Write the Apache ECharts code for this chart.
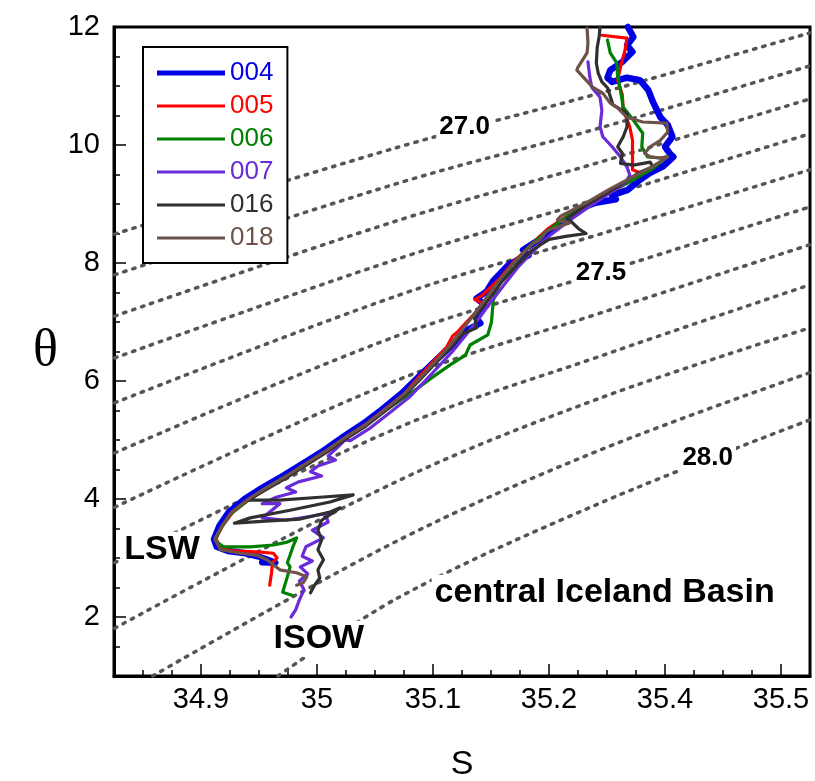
<!DOCTYPE html>
<html>
<head>
<meta charset="UTF-8">
<script src="https://cdn.jsdelivr.net/npm/echarts@6/dist/echarts.min.js"></script>
<style>
  html, body { margin: 0; padding: 0; background: #fff; }
  #chart { width: 815px; height: 781px; }
</style>
</head>
<body>
<div id="chart"></div>
<script>
// axis ticks
const sTicks = [34.875, 35.0, 35.125, 35.25, 35.375, 35.5];
const sTickLabels = ['34.9', '35', '35.1', '35.2', '35.4', '35.5'];
const thetaTicks = [2, 4, 6, 8, 10, 12];

// stations: [S, theta]
const stationNames = ['004', '005', '006', '007', '016', '018'];

const st004 = [[35.335,12.00],[35.341,11.83],[35.334,11.69],[35.340,11.58],[35.329,11.41],[35.316,11.27],[35.313,11.14],[35.318,11.07],[35.334,11.14],[35.348,11.10],[35.357,10.93],[35.362,10.73],[35.370,10.47],[35.378,10.34],[35.383,10.14],[35.375,9.97],[35.380,9.86],[35.384,9.80],[35.373,9.64],[35.359,9.53],[35.348,9.41],[35.335,9.24],[35.318,9.15],[35.322,9.08],[35.300,9.02],[35.285,8.93],[35.268,8.74],[35.250,8.55],[35.238,8.38],[35.222,8.22],[35.228,8.13],[35.207,7.98],[35.190,7.70],[35.183,7.52],[35.172,7.40],[35.180,7.30],[35.170,7.10],[35.176,6.98],[35.160,6.85],[35.145,6.60],[35.128,6.35],[35.110,6.08],[35.092,5.80],[35.071,5.53],[35.050,5.28],[35.028,5.05],[35.007,4.82],[34.985,4.60],[34.963,4.39],[34.941,4.19],[34.922,4.00],[34.905,3.78],[34.895,3.55],[34.889,3.32],[34.892,3.19],[34.904,3.12],[34.923,3.08],[34.936,3.03],[34.947,2.97],[34.955,2.92],[34.941,2.93]];

const st005 = [[35.307,11.86],[35.334,11.81],[35.332,11.61],[35.327,11.32],[35.324,11.10],[35.329,10.85],[35.330,10.59],[35.337,10.31],[35.340,10.08],[35.340,9.80],[35.340,9.58],[35.348,9.53],[35.357,9.58],[35.345,9.45],[35.322,9.25],[35.295,9.02],[35.270,8.80],[35.248,8.57],[35.230,8.30],[35.212,8.02],[35.196,7.72],[35.178,7.45],[35.170,7.38],[35.181,7.30],[35.166,7.08],[35.152,6.84],[35.146,6.76],[35.140,6.58],[35.126,6.34],[35.110,6.07],[35.094,5.78],[35.074,5.53],[35.053,5.27],[35.031,5.04],[35.010,4.81],[34.988,4.59],[34.967,4.38],[34.945,4.18],[34.927,3.99],[34.909,3.77],[34.898,3.54],[34.891,3.33],[34.896,3.17],[34.909,3.12],[34.939,3.10],[34.953,3.08],[34.957,3.00],[34.952,2.92],[34.951,2.75],[34.949,2.54]];

const st006 = [[35.313,11.78],[35.316,11.56],[35.323,11.39],[35.324,11.15],[35.327,10.93],[35.330,10.64],[35.341,10.42],[35.351,10.20],[35.350,9.97],[35.356,9.80],[35.370,9.78],[35.377,9.80],[35.362,9.60],[35.342,9.42],[35.318,9.22],[35.293,9.00],[35.269,8.78],[35.248,8.54],[35.228,8.27],[35.212,7.99],[35.197,7.68],[35.190,7.37],[35.188,7.00],[35.184,6.78],[35.165,6.61],[35.160,6.44],[35.143,6.27],[35.125,6.07],[35.106,5.85],[35.090,5.68],[35.072,5.48],[35.051,5.23],[35.029,5.01],[35.008,4.79],[34.986,4.57],[34.965,4.36],[34.943,4.16],[34.925,3.97],[34.907,3.75],[34.897,3.52],[34.890,3.30],[34.899,3.19],[34.928,3.19],[34.953,3.22],[34.968,3.27],[34.978,3.34],[34.974,3.19],[34.971,3.05],[34.968,2.92],[34.971,2.85],[34.968,2.68],[34.963,2.42],[34.973,2.37]];

const st007 = [[35.292,11.41],[35.294,11.15],[35.296,10.98],[35.305,10.81],[35.307,10.59],[35.305,10.31],[35.308,10.14],[35.318,9.97],[35.327,9.80],[35.334,9.63],[35.337,9.49],[35.333,9.37],[35.315,9.18],[35.293,8.95],[35.272,8.72],[35.252,8.48],[35.233,8.20],[35.216,7.92],[35.201,7.62],[35.187,7.33],[35.173,7.03],[35.160,6.77],[35.147,6.52],[35.133,6.28],[35.117,6.01],[35.099,5.72],[35.079,5.47],[35.058,5.21],[35.036,4.99],[35.030,5.00],[35.019,4.83],[35.012,4.73],[35.020,4.66],[35.001,4.56],[34.993,4.46],[35.005,4.39],[34.980,4.29],[34.967,4.19],[34.977,4.12],[34.956,4.03],[34.941,3.92],[34.960,3.92],[34.949,3.78],[34.941,3.68],[34.966,3.64],[34.987,3.69],[35.009,3.75],[35.012,3.61],[34.995,3.47],[35.007,3.34],[34.988,3.19],[34.984,3.03],[34.995,2.95],[34.982,2.85],[34.990,2.73],[34.981,2.61],[34.986,2.46],[34.981,2.29],[34.977,2.12],[34.972,2.00]];

const st016 = [[35.305,12.00],[35.304,11.83],[35.302,11.66],[35.301,11.39],[35.303,11.22],[35.307,11.07],[35.313,10.97],[35.319,10.68],[35.334,10.54],[35.334,10.31],[35.330,10.14],[35.324,9.97],[35.329,9.86],[35.327,9.69],[35.341,9.66],[35.359,9.71],[35.362,9.63],[35.348,9.54],[35.335,9.41],[35.316,9.22],[35.292,9.00],[35.270,8.76],[35.282,8.58],[35.290,8.50],[35.268,8.45],[35.250,8.40],[35.232,8.22],[35.215,7.96],[35.198,7.66],[35.185,7.38],[35.170,7.08],[35.172,6.90],[35.157,6.80],[35.143,6.55],[35.128,6.31],[35.112,6.04],[35.094,5.75],[35.074,5.50],[35.053,5.24],[35.031,5.02],[35.010,4.79],[34.988,4.57],[34.967,4.36],[34.945,4.16],[34.926,3.98],[34.960,3.98],[35.003,4.03],[35.039,4.07],[35.014,3.95],[34.971,3.81],[34.928,3.68],[34.911,3.59],[34.949,3.63],[34.982,3.66],[35.014,3.78],[35.025,3.85],[35.005,3.64],[35.001,3.47],[35.005,3.31],[35.001,3.14],[35.007,2.97],[35.001,2.80],[35.003,2.66],[34.997,2.53],[34.993,2.41]];

const st018 = [[35.291,11.98],[35.292,11.73],[35.291,11.56],[35.281,11.31],[35.280,11.27],[35.287,11.15],[35.297,10.98],[35.308,10.88],[35.316,10.71],[35.324,10.63],[35.334,10.47],[35.351,10.39],[35.377,10.37],[35.378,10.22],[35.370,10.08],[35.359,9.97],[35.353,9.86],[35.359,9.80],[35.370,9.78],[35.378,9.80],[35.360,9.62],[35.338,9.44],[35.314,9.24],[35.290,9.02],[35.263,8.80],[35.259,8.73],[35.272,8.68],[35.248,8.55],[35.240,8.39],[35.232,8.32],[35.212,8.00],[35.196,7.70],[35.182,7.40],[35.168,7.10],[35.155,6.84],[35.142,6.58],[35.128,6.34],[35.112,6.07],[35.094,5.78],[35.074,5.53],[35.053,5.27],[35.031,5.05],[35.010,4.82],[34.988,4.60],[34.967,4.39],[34.945,4.19],[34.926,4.00],[34.908,3.78],[34.898,3.55],[34.890,3.33],[34.896,3.14],[34.917,3.08],[34.935,3.05],[34.946,2.97],[34.960,2.80],[34.978,2.75],[34.989,2.68],[34.985,2.58],[34.978,2.54]];

// isopycnals (sigma-theta), points
const isoLevels = ['27.0','27.1','27.2','27.3','27.4','27.5','27.6','27.7','27.8','27.9','28.0'];
const isoLines = [
  [[34.782,8.49],[35.089,9.97],[35.305,10.88],[35.531,11.90]],
  [[34.782,7.80],[35.089,9.36],[35.305,10.29],[35.531,11.34]],
  [[34.782,7.10],[35.089,8.73],[35.305,9.71],[35.531,10.78]],
  [[34.782,6.39],[35.089,8.08],[35.305,9.10],[35.531,10.19]],
  [[34.782,5.63],[35.089,7.46],[35.305,8.49],[35.531,9.58]],
  [[34.782,4.78],[35.089,6.78],[35.305,7.83],[35.531,8.95]],
  [[34.782,3.86],[35.089,6.03],[35.305,7.15],[35.531,8.31]],
  [[34.782,2.92],[35.089,5.22],[35.305,6.42],[35.531,7.63]],
  [[34.782,1.81],[35.089,4.32],[35.305,5.71],[35.531,6.90]],
  [[34.823,1.00],[35.089,3.31],[35.305,4.83],[35.531,6.14]],
  [[34.958,1.00],[35.089,2.34],[35.305,3.93],[35.531,5.34]]
];
const isoLabelText = ['27.0', '27.5', '28.0'];
const isoLabelPos = [[35.159,10.31],[35.306,7.83],[35.421,4.69]];

const regionText = ['LSW', 'ISOW', 'central Iceland Basin'];
const regionPos = [[34.833,3.14],[35.002,1.63],[35.310,2.41]];

let stations = [st004, st005, st006, st007, st016, st018];
let colors = ['#0000e6', '#ff0000', '#008000', '#6a2bd8', '#303030', '#6e524a'];
let widths = [6.5, 3.2, 3.2, 3.2, 3.2, 3.2];

const sMin = 34.78125, sMax = 35.53125;
let minorS = [];
for (let v = sMin; v <= sMax + 1e-9; v += 0.03125) minorS.push(+v.toFixed(5));
let minorT = [];
for (let v = 1; v <= 12; v += 0.5) minorT.push(v);

const font = 'Liberation Sans';
let myChart = echarts.init(document.getElementById('chart'));

let series = [];
isoLines.forEach(function (pts, i) {
    series.push({
        name: 'iso' + isoLevels[i],
        type: 'line',
        data: pts,
        smooth: 0.35,
        symbol: 'none',
        silent: true,
        z: 1,
        lineStyle: { color: '#555', width: 3.5, type: [2.5, 7], cap: 'round' }
    });
});
stations.forEach(function (d, i) {
    series.push({
        name: stationNames[i],
        type: 'line',
        data: d,
        symbol: 'none',
        showSymbol: false,
        clip: false,
        z: 3,
        lineStyle: { color: colors[i], width: widths[i], cap: 'round', join: 'round' },
        itemStyle: { color: colors[i] }
    });
});
// text labels placed at data coordinates
function textSeries(pos, names, size) {
    return {
        type: 'scatter',
        silent: true,
        z: 6,
        symbolSize: 1,
        itemStyle: { color: 'rgba(0,0,0,0)' },
        data: pos.map(function (p, i) { return { value: p, name: names[i] }; }),
        label: {
            show: true, position: 'inside', formatter: '{b}',
            fontFamily: font, fontSize: size, fontWeight: 'bold', color: '#000',
            textBorderWidth: 0, opacity: 1,
            backgroundColor: '#fff', padding: [1, 3]
        }
    };
}
series.push(textSeries(isoLabelPos, isoLabelText, 26));
series.push(textSeries(regionPos, regionText, 34));

let option = {
    animation: false,
    backgroundColor: '#fff',
    grid: {
        left: 114, right: 5, top: 27, bottom: 105,
        outerBoundsMode: 'none',
        containLabel: false,
        show: true, borderColor: '#000', borderWidth: 3
    },
    legend: {
        orient: 'vertical',
        left: 143, top: 47,
        padding: [13, 14, 12, 14],
        itemGap: 7,
        itemWidth: 68,
        itemHeight: 14,
        symbolKeepAspect: true,
        backgroundColor: '#fff',
        borderColor: '#000',
        borderWidth: 2,
        textStyle: { fontFamily: font, fontSize: 26, lineHeight: 26 },
        data: stationNames.map(function (n, i) {
            let h = widths[i] > 5 ? 5 : 3;
            return {
                name: n,
                icon: 'path://M0,0L68,0L68,' + h + 'L0,' + h + 'Z',
                textStyle: { color: colors[i] }
            };
        })
    },
    xAxis: [{
        type: 'value', min: sMin, max: sMax, position: 'bottom',
        axisLine: { show: true, lineStyle: { color: '#000', width: 3 } },
        axisTick: { show: true, inside: true, length: 6, customValues: minorS, lineStyle: { color: '#000', width: 1.5 } },
        axisLabel: {
            show: true, customValues: sTicks, margin: 9,
            fontFamily: font, fontSize: 29, color: '#000',
            formatter: function (v) {
                let k = sTicks.findIndex(function (t) { return Math.abs(t - v) < 1e-6; });
                return k >= 0 ? sTickLabels[k] : '';
            }
        },
        splitLine: { show: false },
        name: 'S', nameLocation: 'middle', nameGap: 72,
        nameTextStyle: { fontFamily: font, fontSize: 34, color: '#000' }
    }, {
        type: 'value', min: sMin, max: sMax, position: 'bottom',
        axisLine: { show: false },
        axisTick: { show: true, inside: true, length: 12, customValues: sTicks, lineStyle: { color: '#000', width: 1.5 } },
        axisLabel: { show: false },
        splitLine: { show: false }
    }],
    yAxis: [{
        type: 'value', min: 1, max: 12, position: 'left',
        axisLine: { show: true, lineStyle: { color: '#000', width: 3 } },
        axisTick: { show: true, inside: true, length: 6, customValues: minorT, lineStyle: { color: '#000', width: 1.5 } },
        axisLabel: { show: true, customValues: thetaTicks, margin: 14, fontFamily: font, fontSize: 29, color: '#000' },
        splitLine: { show: false },
        name: 'θ', nameLocation: 'middle', nameRotate: 0, nameGap: 56,
        nameTextStyle: { fontFamily: 'Liberation Serif', fontSize: 52, color: '#000', padding: [8, 0, 0, 0] }
    }, {
        type: 'value', min: 1, max: 12, position: 'left',
        axisLine: { show: false },
        axisTick: { show: true, inside: true, length: 12, customValues: thetaTicks, lineStyle: { color: '#000', width: 1.5 } },
        axisLabel: { show: false },
        splitLine: { show: false }
    }],
    series: series
};
myChart.setOption(option);
</script>
</body>
</html>
